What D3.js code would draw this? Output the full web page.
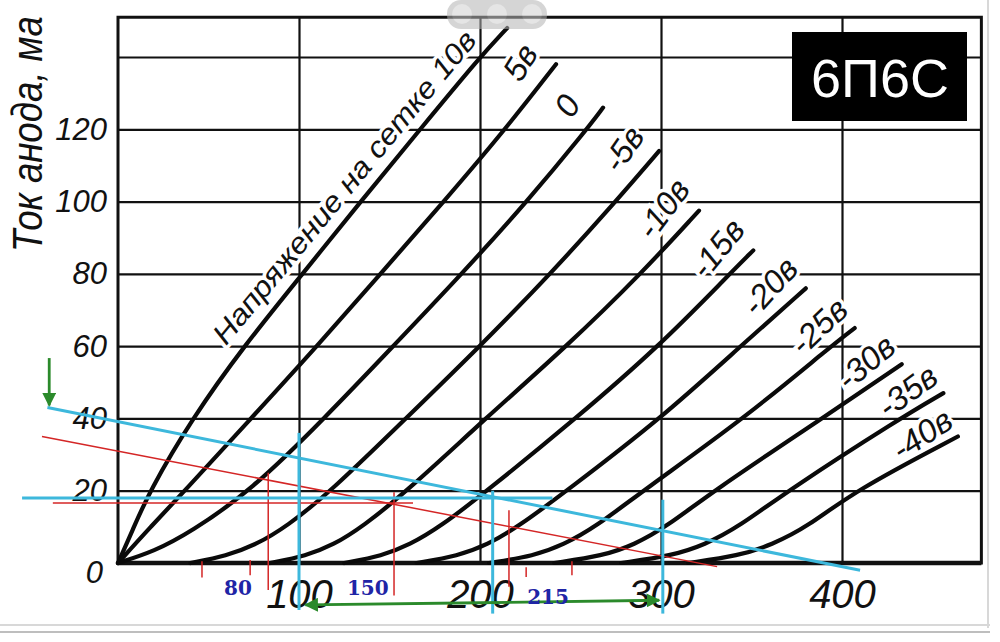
<!DOCTYPE html>
<html>
<head>
<meta charset="utf-8">
<script src="https://cdn.jsdelivr.net/npm/d3@7"></script>
<style>
  body { margin: 0; background: #fff; }
</style>
</head>
<body>
<div id="canvas"></div>
<script>
"use strict"

// grid voltage of every curve, top-left to bottom-right
const gridVolts = [10, 5, 0, -5, -10, -15, -20, -25, -30, -35, -40];

// anode voltage (в), anode current (ма)
const curve10  = [[0, 0], [8, 9], [17, 19.5], [41, 40], [69.5, 60], [102, 80], [134, 100], [167, 120], [200, 140], [215, 148]];
const curve5   = [[0, 0], [18, 10], [36, 19.5], [73.5, 40], [110, 60], [145, 80], [180, 100], [214, 120], [242, 138]];
const curve0   = [[0, 0], [20, 3.2], [40, 8.5], [73.5, 20], [114, 40], [152, 60], [190, 80], [226, 100], [259, 120], [268, 126]];
const curveM5  = [[40, 0], [60, 2], [76, 5], [93, 10], [118, 20], [159, 40], [200, 60], [239, 80], [275, 100], [299, 114]];
const curveM10 = [[84, 0], [104, 2], [119, 5], [135, 10], [160, 20], [203, 40], [248, 60], [289, 80], [321, 97.5]];
const curveM15 = [[125, 0], [146, 2], [161, 5], [178, 10], [204, 20], [253, 40], [299, 60], [338, 80], [351, 86.5]];
const curveM20 = [[165, 0], [188, 2], [204, 5], [221, 10], [248, 20], [300, 40], [344, 60], [380, 76]];
const curveM25 = [[205, 0], [230, 2], [246, 5], [264, 10], [290, 20], [346, 40], [394, 60], [407, 65]];
const curveM30 = [[241, 0], [268, 2], [285, 5], [303, 10], [329, 20], [389, 40], [433, 55]];
const curveM35 = [[278, 0], [306, 2], [324, 5], [343, 10], [370, 20], [432, 40], [456, 47]];
const curveM40 = [[315, 0], [343, 2], [361, 5], [381, 10], [407, 20], [464, 35]];

const curves = [curve10, curve5, curve0, curveM5, curveM10, curveM15, curveM20, curveM25, curveM30, curveM35, curveM40];

// axes
const yTicks = [0, 20, 40, 60, 80, 100, 120];
const yGrid = [20, 40, 60, 80, 100, 120, 140];
const xTicks = [100, 200, 300, 400];
const xMax = 477;   // right edge of the frame, в
const yMax = 151;   // top edge of the frame, ма

// pen and pencil notes drawn over the scan (в, ма)
const blueSegments = [
    [[-39, 43], [410, -2]],
    [[-53, 18], [240, 18]],
    [[100, 36], [100, -13]],
    [[207, 20], [207, -14]],
    [[301, 17.5], [301, -14]]
];
const redSegments = [
    [[-42, 35], [331, -1]],
    [[-36, 16.6], [163, 16.6]],
    [[83, 25], [83, -7.5]],
    [[152.5, 19.6], [152.5, -9]],
    [[216, 14.6], [216, -6.6]],
    [[46.4, 0.5], [46.4, -4]],
    [[73, 0.8], [73, -3.4]],
    [[225.5, -1.2], [225.5, -3.9]],
    [[250.8, 0.5], [250.8, -3.4]]
];
const greenArrows = [
    [[-38, 56.7], [-38, 43.6]],
    [[200, -11], [103.5, -11.6]],
    [[200, -11], [299, -10.3]]
];
const blueNotes = [["80", 66.3, -6.9], ["150", 138, -6.9], ["215", 237.6, -9.4]];

let drawing = d3.select("#canvas")
    .append("svg")
    .attr("width", 1000)
    .attr("height", 642);

let x = d3.scaleLinear().domain([0, 400]).range([118, 842]);
let y = d3.scaleLinear().domain([0, 140]).range([563, 57]);

let tickFont = "'Liberation Sans', Arial, sans-serif";

// viewer chrome round the screenshot
drawing.append("line")
    .attr("x1", 0).attr("x2", 990).attr("y1", 625).attr("y2", 625)
    .attr("stroke", "#d8d8d8").attr("stroke-width", 2);
drawing.append("line")
    .attr("x1", 0).attr("x2", 990).attr("y1", 632).attr("y2", 632)
    .attr("stroke", "#a8a8a8").attr("stroke-width", 1.5);
drawing.append("line")
    .attr("x1", 988).attr("x2", 988).attr("y1", 0).attr("y2", 628)
    .attr("stroke", "#d8d8d8").attr("stroke-width", 2);

// grid
drawing.append("g")
    .attr("transform", "translate(0," + y(0) + ")")
    .call(d3.axisBottom(x).tickValues(xTicks).tickSize(-(y(0) - y(yMax))).tickFormat(""));
drawing.append("g")
    .attr("transform", "translate(" + x(0) + ",0)")
    .call(d3.axisLeft(y).tickValues(yGrid).tickSize(-(x(xMax) - x(0))).tickFormat(""));
drawing.selectAll(".domain").remove();
drawing.selectAll(".tick line")
    .attr("stroke", "#111")
    .attr("stroke-width", 2.2);

// frame
drawing.append("rect")
    .attr("x", x(0))
    .attr("y", y(yMax))
    .attr("width", x(xMax) - x(0))
    .attr("height", y(0) - y(yMax))
    .attr("fill", "none")
    .attr("stroke", "#111")
    .attr("stroke-width", 3);
drawing.append("line")
    .attr("x1", x(0)).attr("x2", x(xMax))
    .attr("y1", y(0)).attr("y2", y(0))
    .attr("stroke", "#111")
    .attr("stroke-width", 4.5);

// tick labels
let yAxis = drawing.append("g")
    .attr("transform", "translate(" + x(0) + ",0)")
    .call(d3.axisLeft(y).tickValues(yTicks).tickSize(0).tickPadding(11));
yAxis.select(".domain").remove();
yAxis.selectAll("text")
    .attr("font-family", tickFont)
    .attr("font-style", "italic")
    .attr("font-size", 31)
    .attr("fill", "#111");
yAxis.selectAll("text").filter(d => d === 0)
    .attr("dy", "0.62em")
    .attr("x", -15);

let xAxis = drawing.append("g")
    .attr("transform", "translate(0," + y(0) + ")")
    .call(d3.axisBottom(x).tickValues(xTicks).tickSize(0).tickPadding(17));
xAxis.select(".domain").remove();
xAxis.selectAll("text")
    .attr("font-family", tickFont)
    .attr("font-style", "italic")
    .attr("font-size", 40)
    .attr("fill", "#111");

// axis title, squeezed along its length like the condensed print type
drawing.append("text")
    .attr("transform", "translate(42,134) rotate(-90) scale(0.85,1)")
    .attr("text-anchor", "middle")
    .attr("font-family", tickFont)
    .attr("font-style", "italic")
    .attr("font-size", 43)
    .attr("fill", "#111")
    .text("Ток анода, ма");

// curve labels, with a white halo that breaks the grid like the print does
let labelStyle = function (sel) {
    sel.attr("font-family", tickFont)
        .attr("font-style", "italic")
        .attr("fill", "#111")
        .attr("stroke", "#fff")
        .attr("stroke-width", 7)
        .attr("paint-order", "stroke")
        .attr("text-anchor", "middle")
        .attr("dominant-baseline", "central");
};

curves.forEach(function (pts, i) {
    if (i === 0) return;
    let end = pts[pts.length - 1];
    let prev = pts[pts.length - 2];
    let ang = Math.atan2(y(end[1]) - y(prev[1]), x(end[0]) - x(prev[0])) * 180 / Math.PI - 6;
    let px = x(end[0]) - 36;
    let py = y(end[1]) - 2;
    let v = gridVolts[i];
    drawing.append("text")
        .call(labelStyle)
        .attr("font-size", 33)
        .attr("transform", "translate(" + px + "," + py + ") rotate(" + ang + ")")
        .text(v === 0 ? "0" : v + "в");
});

drawing.append("text")
    .call(labelStyle)
    .attr("font-size", 29)
    .attr("textLength", 396)
    .attr("lengthAdjust", "spacingAndGlyphs")
    .attr("transform", "translate(" + x(125) + "," + y(104) + ") rotate(-50.5)")
    .text("Напряжение на сетке " + gridVolts[0] + "в");

// plate curves
let plateLine = d3.line()
    .x(d => x(d[0]))
    .y(d => y(d[1]))
    .curve(d3.curveBasis);

drawing.selectAll(".curve")
    .data(curves)
    .join("path")
    .attr("class", "curve")
    .attr("d", plateLine)
    .attr("fill", "none")
    .attr("stroke", "#0a0a0a")
    .attr("stroke-width", 4.2)
    .attr("stroke-linecap", "round");

// tube name badge
drawing.append("rect")
    .attr("x", 792)
    .attr("y", 32)
    .attr("width", 175)
    .attr("height", 89)
    .attr("fill", "#000");
drawing.append("text")
    .attr("x", 880)
    .attr("y", 78)
    .attr("text-anchor", "middle")
    .attr("dominant-baseline", "central")
    .attr("font-family", tickFont)
    .attr("font-size", 54)
    .attr("fill", "#fff")
    .text("6П6С");

// notes on top
let segLine = d3.line().x(d => x(d[0])).y(d => y(d[1]));

drawing.selectAll(".red")
    .data(redSegments)
    .join("path")
    .attr("class", "red")
    .attr("d", segLine)
    .attr("stroke", "#d42626")
    .attr("stroke-width", 1.5)
    .attr("fill", "none");

drawing.selectAll(".blue")
    .data(blueSegments)
    .join("path")
    .attr("class", "blue")
    .attr("d", segLine)
    .attr("stroke", "#3db8dc")
    .attr("stroke-width", 3)
    .attr("fill", "none");

drawing.append("defs").append("marker")
    .attr("id", "greenHead")
    .attr("viewBox", "0 0 10 10")
    .attr("refX", 9)
    .attr("refY", 5)
    .attr("markerWidth", 5)
    .attr("markerHeight", 5)
    .attr("orient", "auto")
    .append("path")
    .attr("d", "M0,0 L10,5 L0,10 Z")
    .attr("fill", "#2b8a2b");

drawing.selectAll(".green")
    .data(greenArrows)
    .join("path")
    .attr("class", "green")
    .attr("d", segLine)
    .attr("stroke", "#2b8a2b")
    .attr("stroke-width", 2.8)
    .attr("fill", "none")
    .attr("marker-end", "url(#greenHead)");

drawing.selectAll(".note")
    .data(blueNotes)
    .join("text")
    .attr("class", "note")
    .attr("x", d => x(d[1]))
    .attr("y", d => y(d[2]))
    .attr("text-anchor", "middle")
    .attr("dominant-baseline", "central")
    .attr("font-family", "'DejaVu Serif', 'Liberation Serif', serif")
    .attr("font-weight", "bold")
    .attr("font-size", 20)
    .attr("fill", "#1f25a6")
    .text(d => d[0]);

// zoom pill of the image viewer
let pill = drawing.append("g").attr("opacity", 0.55);
pill.append("rect")
    .attr("x", 447).attr("y", 0).attr("width", 100).attr("height", 29)
    .attr("rx", 14).attr("fill", "#b4b4b4");
[462, 497, 532].forEach(function (cx) {
    pill.append("circle").attr("cx", cx).attr("cy", 14).attr("r", 10).attr("fill", "#d0d0d0");
});
</script>
</body>
</html>
